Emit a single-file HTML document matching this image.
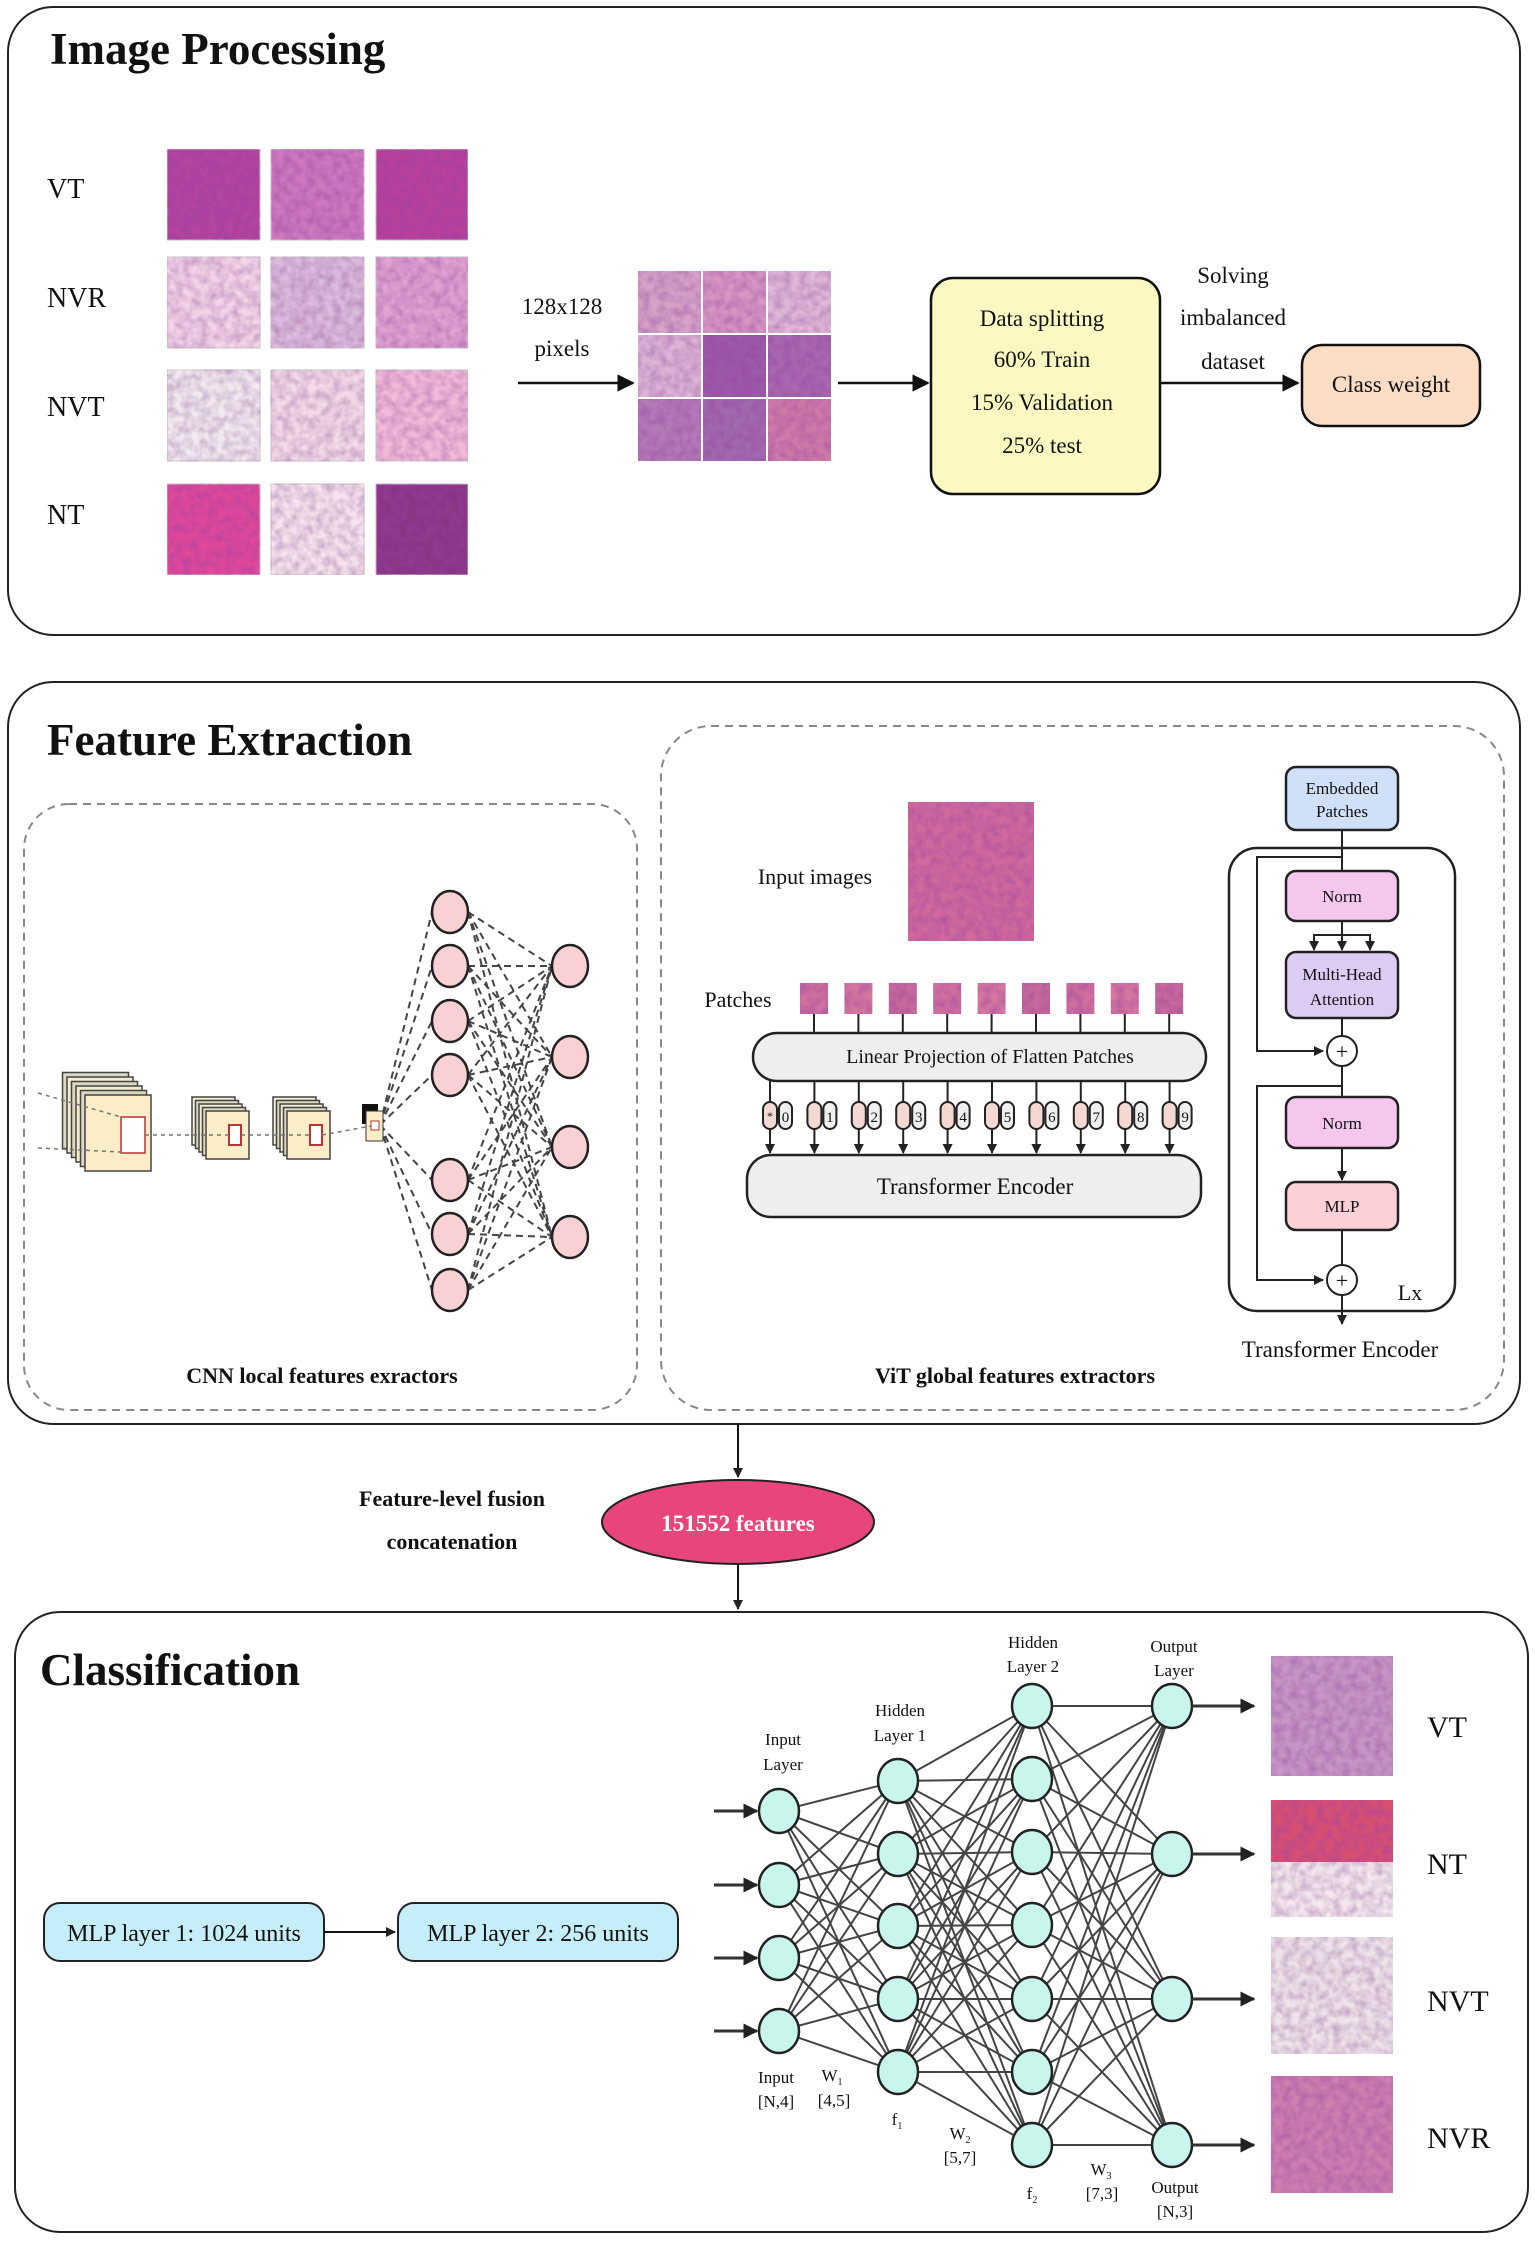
<!DOCTYPE html>
<html><head><meta charset="utf-8">
<style>
html,body{margin:0;padding:0;background:#fff;}
svg{display:block;}
text{font-family:"Liberation Serif",serif;fill:#111;}
</style></head>
<body>
<svg id="s" width="1535" height="2242" viewBox="0 0 1535 2242" xmlns="http://www.w3.org/2000/svg">
<defs>
<marker id="ar" viewBox="0 0 10 10" refX="9" refY="5" markerWidth="7" markerHeight="7" orient="auto"><path d="M0,0 L10,5 L0,10 z" fill="#111"/></marker>
<marker id="ar2" viewBox="0 0 10 10" refX="9" refY="5" markerWidth="5" markerHeight="5" orient="auto"><path d="M0,0 L10,5 L0,10 z" fill="#222"/></marker>
<filter id="tex" x="0" y="0" width="100%" height="100%">
<feTurbulence type="fractalNoise" baseFrequency="0.12" numOctaves="2" seed="3" result="n"/>
<feColorMatrix in="n" type="matrix" values="0 0 0 0 0.3  0 0 0 0 0.05  0 0 0 0 0.35  0 0 0 0.9 -0.25" result="c"/>
<feComposite in="c" in2="SourceGraphic" operator="atop"/>
</filter>
</defs>

<!-- Image Processing -->
<rect x="8" y="7" width="1512" height="628" rx="45" fill="#fff" stroke="#222" stroke-width="2"/>
<text x="50" y="64" font-size="45" font-weight="bold">Image Processing</text>
<g font-size="28">
<text x="47" y="198">VT</text><text x="47" y="307">NVR</text><text x="47" y="416">NVT</text><text x="47" y="524">NT</text>
</g>
<g id="tiles" filter="url(#tex)"></g>
<text x="562" y="314" font-size="23" text-anchor="middle">128x128</text>
<text x="562" y="356" font-size="23" text-anchor="middle">pixels</text>
<line x1="518" y1="383" x2="633" y2="383" stroke="#111" stroke-width="2.5" marker-end="url(#ar)"/>
<g id="grid" filter="url(#tex)"></g>
<line x1="838" y1="383" x2="928" y2="383" stroke="#111" stroke-width="2.5" marker-end="url(#ar)"/>
<rect x="931" y="278" width="229" height="216" rx="22" fill="#fcf8c2" stroke="#111" stroke-width="2.5"/>
<g font-size="23" text-anchor="middle">
<text x="1042" y="326">Data splitting</text><text x="1042" y="367">60% Train</text><text x="1042" y="410">15% Validation</text><text x="1042" y="453">25% test</text>
<text x="1233" y="283">Solving</text><text x="1233" y="325">imbalanced</text><text x="1233" y="369">dataset</text>
</g>
<line x1="1160" y1="383" x2="1298" y2="383" stroke="#111" stroke-width="2.5" marker-end="url(#ar)"/>
<rect x="1302" y="345" width="178" height="81" rx="20" fill="#fbdcc4" stroke="#111" stroke-width="2.5"/>
<text x="1391" y="392" font-size="23" text-anchor="middle">Class weight</text>

<!-- Feature Extraction -->
<rect x="8" y="682" width="1512" height="742" rx="45" fill="#fff" stroke="#222" stroke-width="2"/>
<text x="47" y="755" font-size="45" font-weight="bold">Feature Extraction</text>
<rect x="24" y="804" width="613" height="606" rx="45" fill="none" stroke="#888" stroke-width="2" stroke-dasharray="8,6"/>
<rect x="661" y="726" width="843" height="684" rx="50" fill="none" stroke="#888" stroke-width="2" stroke-dasharray="8,6"/>
<text x="322" y="1383" font-size="22" font-weight="bold" text-anchor="middle">CNN local features exractors</text>
<text x="1015" y="1383" font-size="22" font-weight="bold" text-anchor="middle">ViT global features extractors</text>
<g id="cnn"></g>

<!-- ViT -->
<text x="815" y="884" font-size="22" text-anchor="middle">Input images</text>
<rect x="908" y="802" width="126" height="139" fill="#d16a9c" filter="url(#tex)"/>
<text x="738" y="1007" font-size="22" text-anchor="middle">Patches</text>
<g id="vit"></g>
<rect x="753" y="1033" width="453" height="48" rx="24" fill="#eeeeee" stroke="#222" stroke-width="2.5"/>
<text x="990" y="1063" font-size="20" text-anchor="middle">Linear Projection of Flatten Patches</text>
<rect x="747" y="1155" width="454" height="62" rx="24" fill="#eeeeee" stroke="#222" stroke-width="2.5"/>
<text x="975" y="1194" font-size="23" text-anchor="middle">Transformer Encoder</text>

<!-- encoder block -->
<rect x="1229" y="848" width="226" height="463" rx="28" fill="none" stroke="#222" stroke-width="2.5"/>
<rect x="1286" y="767" width="112" height="63" rx="10" fill="#cfe0f8" stroke="#222" stroke-width="2.5"/>
<text x="1342" y="794" font-size="17" text-anchor="middle">Embedded</text><text x="1342" y="817" font-size="17" text-anchor="middle">Patches</text>
<line x1="1342" y1="830" x2="1342" y2="870" stroke="#222" stroke-width="2"/>
<polyline points="1342,857 1257,857 1257,1051 1323,1051" fill="none" stroke="#222" stroke-width="2" marker-end="url(#ar2)"/>
<rect x="1286" y="871" width="112" height="50" rx="10" fill="#f5c7ec" stroke="#222" stroke-width="2.5"/>
<text x="1342" y="902" font-size="17" text-anchor="middle">Norm</text>
<line x1="1342" y1="921" x2="1342" y2="950" stroke="#222" stroke-width="2" marker-end="url(#ar2)"/>
<polyline points="1314,950 1314,935 1370,935 1370,950" fill="none" stroke="#222" stroke-width="2"/>
<line x1="1314" y1="935" x2="1314" y2="950" stroke="#222" stroke-width="2" marker-end="url(#ar2)"/>
<line x1="1370" y1="935" x2="1370" y2="950" stroke="#222" stroke-width="2" marker-end="url(#ar2)"/>
<rect x="1286" y="952" width="112" height="66" rx="10" fill="#dccbf2" stroke="#222" stroke-width="2.5"/>
<text x="1342" y="980" font-size="17" text-anchor="middle">Multi-Head</text><text x="1342" y="1005" font-size="17" text-anchor="middle">Attention</text>
<line x1="1342" y1="1018" x2="1342" y2="1036" stroke="#222" stroke-width="2"/>
<circle cx="1342" cy="1051" r="15" fill="#fff" stroke="#222" stroke-width="2"/>
<text x="1342" y="1059" font-size="22" text-anchor="middle">+</text>
<line x1="1342" y1="1066" x2="1342" y2="1096" stroke="#222" stroke-width="2"/>
<polyline points="1342,1086 1257,1086 1257,1280 1323,1280" fill="none" stroke="#222" stroke-width="2" marker-end="url(#ar2)"/>
<rect x="1286" y="1097" width="112" height="51" rx="10" fill="#f5c7ec" stroke="#222" stroke-width="2.5"/>
<text x="1342" y="1129" font-size="17" text-anchor="middle">Norm</text>
<line x1="1342" y1="1148" x2="1342" y2="1180" stroke="#222" stroke-width="2" marker-end="url(#ar2)"/>
<rect x="1286" y="1182" width="112" height="48" rx="10" fill="#fbd0d6" stroke="#222" stroke-width="2.5"/>
<text x="1342" y="1212" font-size="17" text-anchor="middle">MLP</text>
<line x1="1342" y1="1230" x2="1342" y2="1265" stroke="#222" stroke-width="2"/>
<circle cx="1342" cy="1280" r="15" fill="#fff" stroke="#222" stroke-width="2"/>
<text x="1342" y="1288" font-size="22" text-anchor="middle">+</text>
<line x1="1342" y1="1295" x2="1342" y2="1324" stroke="#222" stroke-width="2" marker-end="url(#ar2)"/>
<text x="1410" y="1300" font-size="22" text-anchor="middle">Lx</text>
<text x="1340" y="1357" font-size="23" text-anchor="middle">Transformer Encoder</text>

<!-- fusion -->
<line x1="738" y1="1424" x2="738" y2="1477" stroke="#111" stroke-width="2" marker-end="url(#ar2)"/>
<ellipse cx="738" cy="1522" rx="136" ry="42" fill="#e8457a" stroke="#222" stroke-width="2"/>
<text x="738" y="1531" font-size="23" font-weight="bold" text-anchor="middle" style="fill:#fff">151552 features</text>
<text x="452" y="1506" font-size="22" font-weight="bold" text-anchor="middle">Feature-level fusion</text>
<text x="452" y="1549" font-size="22" font-weight="bold" text-anchor="middle">concatenation</text>
<line x1="738" y1="1564" x2="738" y2="1609" stroke="#111" stroke-width="2" marker-end="url(#ar2)"/>

<!-- Classification -->
<rect x="15" y="1612" width="1513" height="620" rx="45" fill="#fff" stroke="#222" stroke-width="2"/>
<text x="40" y="1685" font-size="45" font-weight="bold">Classification</text>
<rect x="44" y="1903" width="280" height="58" rx="16" fill="#c6eef8" stroke="#222" stroke-width="2"/>
<text x="184" y="1941" font-size="24" text-anchor="middle">MLP layer 1: 1024 units</text>
<line x1="324" y1="1932" x2="395" y2="1932" stroke="#111" stroke-width="2" marker-end="url(#ar2)"/>
<rect x="398" y="1903" width="280" height="58" rx="16" fill="#c6eef8" stroke="#222" stroke-width="2"/>
<text x="538" y="1941" font-size="24" text-anchor="middle">MLP layer 2: 256 units</text>
<g id="nn"></g>
<g font-size="17" text-anchor="middle" style="fill:#333">
<text x="783" y="1745">Input</text><text x="783" y="1770">Layer</text>
<text x="900" y="1716">Hidden</text><text x="900" y="1741">Layer 1</text>
<text x="1033" y="1648">Hidden</text><text x="1033" y="1672">Layer 2</text>
<text x="1174" y="1652">Output</text><text x="1174" y="1676">Layer</text>
<text x="776" y="2083">Input</text><text x="776" y="2107">[N,4]</text>
<text x="832" y="2081">W<tspan font-size="10" dy="4">1</tspan></text><text x="834" y="2106">[4,5]</text>
<text x="897" y="2125">f<tspan font-size="10" dy="4">1</tspan></text>
<text x="960" y="2139">W<tspan font-size="10" dy="4">2</tspan></text><text x="960" y="2163">[5,7]</text>
<text x="1032" y="2199">f<tspan font-size="10" dy="4">2</tspan></text>
<text x="1101" y="2175">W<tspan font-size="10" dy="4">3</tspan></text><text x="1102" y="2199">[7,3]</text>
<text x="1175" y="2193">Output</text><text x="1175" y="2217">[N,3]</text>
</g>
<g font-size="30">
<text x="1427" y="1737">VT</text><text x="1427" y="1874">NT</text><text x="1427" y="2011">NVT</text><text x="1427" y="2148">NVR</text>
</g>
<g filter="url(#tex)">
<rect x="1271" y="1656" width="122" height="120" fill="#c897c6"/>
<rect x="1271" y="1800" width="122" height="117" fill="#f4e8ee"/>
<rect x="1271" y="1800" width="122" height="62" fill="#d8506e"/>
<rect x="1271" y="1937" width="122" height="117" fill="#efe4ea"/>
<rect x="1271" y="2076" width="122" height="117" fill="#cf7fb0"/>
</g>
</svg>
<script>
var NS="http://www.w3.org/2000/svg",S=document.getElementById('s');
function el(p,t,a){var e=document.createElementNS(NS,t);for(var k in a)e.setAttribute(k,a[k]);p.appendChild(e);return e;}
var tg=document.getElementById('tiles');
var cols=[[167,260],[271,364],[376,468]],rows=[[149,240],[257,348],[370,461],[484,575]];
var cl=[["#b4449e","#cf78c0","#b9409c"],["#f4d4e8","#dcbcdc","#e2a2d2"],["#f3eaf0","#f3dbe9","#f2bcd9"],["#e0489a","#f7e4ee","#8a3484"]];
for(var r=0;r<4;r++)for(var c=0;c<3;c++)el(tg,'rect',{x:cols[c][0],y:rows[r][0],width:cols[c][1]-cols[c][0],height:rows[r][1]-rows[r][0],fill:cl[r][c],stroke:"#ccc"});
var gg=document.getElementById('grid');
var gc=[["#d8a2c8","#d896c4","#e0b8d8"],["#deb4d6","#9c5aa8","#a868b0"],["#b47ab8","#a26aae","#d07aa8"]];
for(var r=0;r<3;r++)for(var c=0;c<3;c++)el(gg,'rect',{x:638+c*65,y:271+r*64,width:63,height:62,fill:gc[r][c]});
// CNN
var cg=document.getElementById('cnn');
var L=[912,966,1021,1075,1180,1234,1290],R=[966,1057,1147,1237];
for(var i=0;i<L.length;i++){el(cg,'line',{x1:380,y1:1125,x2:432,y2:L[i],stroke:"#444","stroke-width":2,"stroke-dasharray":"7,5"});
 for(var j=0;j<R.length;j++)el(cg,'line',{x1:468,y1:L[i],x2:552,y2:R[j],stroke:"#444","stroke-width":2,"stroke-dasharray":"7,5"});}
for(var i=0;i<L.length;i++)el(cg,'ellipse',{cx:450,cy:L[i],rx:18,ry:21,fill:"#f9d0d4",stroke:"#222","stroke-width":2.5});
for(var j=0;j<R.length;j++)el(cg,'ellipse',{cx:570,cy:R[j],rx:18,ry:21,fill:"#f9d0d4",stroke:"#222","stroke-width":2.5});
function stack(x,y,w,h,n,d){for(var k=n-1;k>=0;k--)el(cg,'rect',{x:x-k*d,y:y-k*d,width:w,height:h,fill:k==0?"#fbedc8":(k%2?"#ddd8c0":"#f4ecd0"),stroke:"#444","stroke-width":1.5});}
stack(85,1095,66,76,6,4.5);stack(206,1111,43,48,5,3.5);stack(287,1111,43,48,5,3.5);
el(cg,'rect',{x:362,y:1104,width:16,height:20,fill:"#111"});el(cg,'rect',{x:366,y:1111,width:17,height:30,fill:"#fbedc8",stroke:"#333"});
el(cg,'rect',{x:121,y:1117,width:24,height:36,fill:"#fff",stroke:"#b33","stroke-width":1.5});
el(cg,'rect',{x:229,y:1125,width:12,height:20,fill:"#fff",stroke:"#b33","stroke-width":2});
el(cg,'rect',{x:310,y:1125,width:12,height:20,fill:"#fff",stroke:"#b33","stroke-width":2});
el(cg,'rect',{x:371,y:1121,width:8,height:9,fill:"#fff",stroke:"#b33","stroke-width":1});
[[38,1093,121,1117],[38,1148,121,1152],[145,1135,229,1135],[241,1135,310,1135],[322,1135,371,1126]].forEach(function(a){el(cg,'line',{x1:a[0],y1:a[1],x2:a[2],y2:a[3],stroke:"#777","stroke-width":1.5,"stroke-dasharray":"4,4"});});
// ViT
var vg=document.getElementById('vit');
for(var i=0;i<9;i++){var cx=814+i*44.4;
 el(vg,'rect',{x:cx-14,y:983,width:28,height:31,fill:["#d0709e","#d6779f","#c86a9a"][i%3],filter:"url(#tex)"});
 el(vg,'line',{x1:cx,y1:1014,x2:cx,y2:1033,stroke:"#222","stroke-width":2});}
for(var i=0;i<10;i++){var px=770+i*44.4,wx=px+15;
 el(vg,'line',{x1:px,y1:1081,x2:px,y2:1153,stroke:"#222","stroke-width":2,"marker-end":"url(#ar2)"});
 el(vg,'rect',{x:px-7,y:1102,width:14,height:27,rx:7,fill:"#f5d8d2",stroke:"#222","stroke-width":2});
 el(vg,'rect',{x:wx-6,y:1102,width:13,height:27,rx:6.5,fill:"#f0f0f0",stroke:"#222","stroke-width":2});
 var t=el(vg,'text',{x:wx+0.5,y:1122,"font-size":15,"text-anchor":"middle"});t.textContent=i;}
var s0=el(vg,'text',{x:770,y:1120,"font-size":12,"text-anchor":"middle"});s0.textContent="*";
// NN
var ng=document.getElementById('nn');
var X=[779,898,1032,1172],Y=[[1811,1885,1958,2031],[1781,1854,1926,1999,2072],[1706,1779,1852,1925,1999,2072,2145],[1706,1854,1999,2145]];
for(var l=0;l<3;l++)for(var a=0;a<Y[l].length;a++)for(var b=0;b<Y[l+1].length;b++)el(ng,'line',{x1:X[l],y1:Y[l][a],x2:X[l+1],y2:Y[l+1][b],stroke:"#444","stroke-width":2});
for(var l=0;l<4;l++)for(var a=0;a<Y[l].length;a++)el(ng,'ellipse',{cx:X[l],cy:Y[l][a],rx:20,ry:22,fill:"#c8f5ec",stroke:"#222","stroke-width":2.5});
Y[0].forEach(function(y){el(ng,'line',{x1:714,y1:y,x2:757,y2:y,stroke:"#333","stroke-width":3,"marker-end":"url(#ar2)"});});
Y[3].forEach(function(y){el(ng,'line',{x1:1192,y1:y,x2:1254,y2:y,stroke:"#333","stroke-width":3,"marker-end":"url(#ar2)"});});
</script>
</body></html>
